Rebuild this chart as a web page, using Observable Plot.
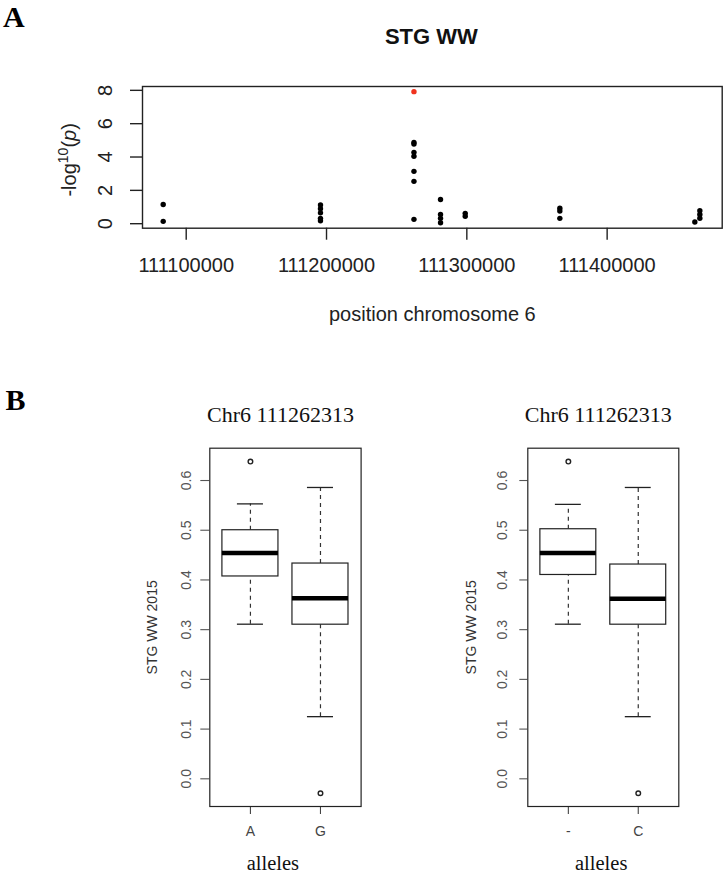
<!DOCTYPE html>
<html>
<head>
<meta charset="utf-8">
<script src="https://cdn.jsdelivr.net/npm/d3@7"></script>
<script src="https://cdn.jsdelivr.net/npm/@observablehq/plot@0.6"></script>
<style>
html, body { margin: 0; padding: 0; background: #fff; }
#root { position: relative; width: 723px; height: 875px; overflow: hidden; background: #fff; }
#root svg { position: absolute; }
</style>
</head>
<body>
<div id="root"></div>
<script>
// ---------- Panel A data: SNP positions on chromosome 6 and -log10(p) ----------
const snpPos = [
  111083600, 111083600,
  111195700, 111195700, 111195700, 111195700, 111195700,
  111262313, 111262313, 111262313, 111262313, 111262313, 111262313, 111262313, 111262313,
  111281250, 111281250, 111281250, 111281250,
  111298860, 111298860,
  111366290, 111366290, 111366290,
  111462500,
  111466070, 111466070, 111466070
];
const snpLogP = [
  1.15, 0.14,
  1.12, 0.90, 0.65, 0.32, 0.18,
  7.92, 4.87, 4.78, 4.28, 4.05, 3.14, 2.54, 0.26,
  1.45, 0.55, 0.32, 0.06,
  0.62, 0.45,
  0.93, 0.76, 0.32,
  0.10,
  0.78, 0.55, 0.33
];
const xTicksA = [111100000, 111200000, 111300000, 111400000];
const yTicksA = [0, 2, 4, 6, 8];

// ---------- Panel B data: boxplot statistics ----------
const allelesL = ["A", "G"];
const lowerL = [0.311, 0.125];
const q1L = [0.407, 0.310];
const medL = [0.454, 0.363];
const q3L = [0.500, 0.433];
const upperL = [0.553, 0.586];
const outliersL = [[0.638], [-0.029]];

const allelesR = ["-", "C"];
const lowerR = [0.311, 0.125];
const q1R = [0.410, 0.310];
const medR = [0.454, 0.362];
const q3R = [0.502, 0.431];
const upperR = [0.552, 0.586];
const outliersR = [[0.638], [-0.029]];

const yTicksB = [0, 0.1, 0.2, 0.3, 0.4, 0.5, 0.6];
const titleB = "Chr6 111262313";

const SANS = "'Liberation Sans', Arial, Helvetica, sans-serif";
const SERIF = "'Liberation Serif', 'Times New Roman', Times, serif";
const root = document.getElementById("root");

// ---------- Panel A ----------
const maxLP = d3.max(snpLogP);
const snps = snpPos.map((p, i) => ({pos: p, lp: snpLogP[i], top: snpLogP[i] === maxLP}));

const plotA = Plot.plot({
  width: 723, height: 380,
  marginLeft: 142, marginRight: 1.3, marginTop: 86, marginBottom: 152.3,
  style: {fontFamily: SANS, background: "transparent", overflow: "visible", color: "#111"},
  x: {domain: [111068850, 111482000], axis: null},
  y: {domain: [-0.27, 8.23], axis: null},
  marks: [
    Plot.axisY(yTicksA, {tickSize: 12, tickPadding: 18.3, tickRotate: -90, textAnchor: "middle", lineAnchor: "bottom",
      fontSize: 20, label: null, strokeWidth: 1.4, color: "#222", tickFormat: d3.format("d")}),
    Plot.axisX(xTicksA, {tickSize: 12, tickPadding: 17.6, fontSize: 20, label: null, strokeWidth: 1.4, color: "#222",
      tickFormat: d3.format("d")}),
    Plot.frame({stroke: "#222", strokeWidth: 1.4}),
    Plot.dot(snps.filter(d => !d.top), {x: "pos", y: "lp", r: 2.7, fill: "#000", stroke: "none"}),
    Plot.dot(snps.filter(d => d.top), {x: "pos", y: "lp", r: 2.7, fill: "#f0321e", stroke: "none"}),
    Plot.text(["A"], {text: d => d, frameAnchor: "top-left", dx: -139.5, dy: -59.3, textAnchor: "start", lineAnchor: "bottom",
      fontFamily: SERIF, fontWeight: "bold", fontSize: 30, fill: "#000"}),
    Plot.text(["STG WW"], {text: d => d, frameAnchor: "top", dx: -1, dy: -42.7, lineAnchor: "bottom",
      fontWeight: "bold", fontSize: 22, fill: "#111"}),
    Plot.text(["position chromosome 6"], {text: d => d, frameAnchor: "bottom", dx: 0, dy: 92.3, lineAnchor: "bottom",
      fontSize: 20, fill: "#222"})
  ]
});
plotA.style.left = "0px";
plotA.style.top = "0px";
root.appendChild(plotA);

// rich y label -log10(p) (superscript and italic), centred on the frame's left side
{
  const cy = 86 + (380 - 86 - 152.3) / 2;
  const t = d3.select(plotA).append("text")
    .attr("transform", `translate(76,${cy + 3}) rotate(-90)`)
    .attr("text-anchor", "middle")
    .attr("font-family", SANS)
    .attr("font-size", 20)
    .attr("fill", "#222");
  t.append("tspan").text("-log");
  t.append("tspan").attr("dy", -8).attr("font-size", 14).text("10");
  t.append("tspan").attr("dy", 8).text("(");
  t.append("tspan").attr("font-style", "italic").text("p");
  t.append("tspan").text(")");
}

// ---------- Panel B ----------
function boxPanel(cfg) {
  const rows = cfg.alleles.map((a, i) => ({
    allele: a, lower: cfg.lower[i], q1: cfg.q1[i], med: cfg.med[i], q3: cfg.q3[i], upper: cfg.upper[i]
  }));
  const outs = cfg.alleles.flatMap((a, i) => cfg.outliers[i].map(v => ({allele: a, v})));
  const marks = [
    Plot.axisY(yTicksB, {tickSize: cfg.tickSizeY, tickPadding: cfg.tickPadY, tickRotate: -90, textAnchor: "middle",
      lineAnchor: "bottom", fontSize: 14, label: null, color: "#555", strokeWidth: 1.1, tickFormat: d3.format(".1f")}),
    Plot.axisX({tickSize: 8, tickPadding: 12, fontSize: 14, label: null, color: "#444", strokeWidth: 1.1}),
    Plot.frame({stroke: "#222", strokeWidth: 1.2}),
    Plot.ruleX(rows, {x: "allele", y1: "q3", y2: "upper", stroke: "#333", strokeWidth: 1.2, strokeDasharray: "4,4"}),
    Plot.ruleX(rows, {x: "allele", y1: "lower", y2: "q1", stroke: "#333", strokeWidth: 1.2, strokeDasharray: "4,4"}),
    Plot.tickY(rows, {x: "allele", y: "upper", insetLeft: 15, insetRight: 15, stroke: "#222", strokeWidth: 1.3}),
    Plot.tickY(rows, {x: "allele", y: "lower", insetLeft: 15, insetRight: 15, stroke: "#222", strokeWidth: 1.3}),
    Plot.barY(rows, {x: "allele", y1: "q1", y2: "q3", fill: "white", stroke: "#222", strokeWidth: 1.2}),
    Plot.tickY(rows, {x: "allele", y: "med", stroke: "#000", strokeWidth: 4.5}),
    Plot.dot(outs, {x: "allele", y: "v", r: 2.3, fill: "none", stroke: "#222", strokeWidth: 1.4}),
    Plot.text([titleB], {text: d => d, frameAnchor: "top", dx: cfg.titleDx, dy: -26, lineAnchor: "bottom",
      fontFamily: SERIF, fontSize: 22, fill: "#111"}),
    Plot.text(["alleles"], {text: d => d, frameAnchor: "bottom", dx: cfg.xlabDx, dy: 63.5, lineAnchor: "bottom",
      fontFamily: SERIF, fontSize: 20.5, fill: "#111"}),
    Plot.text(["STG WW 2015"], {text: d => d, frameAnchor: "left", dx: cfg.ylabDx, dy: 0, rotate: -90,
      textAnchor: "middle", lineAnchor: "bottom", fontSize: 14, fill: "#333"})
  ];
  if (cfg.panelLabel) {
    marks.push(Plot.text([cfg.panelLabel], {text: d => d, frameAnchor: "top-left", dx: -204.3, dy: -38.4,
      textAnchor: "start", lineAnchor: "bottom", fontFamily: SERIF, fontWeight: "bold", fontSize: 30, fill: "#000"}));
  }
  const svg = Plot.plot({
    width: cfg.width, height: 495,
    marginLeft: cfg.marginLeft, marginRight: cfg.marginRight, marginTop: 67.7, marginBottom: 69,
    style: {fontFamily: SANS, background: "transparent", overflow: "visible", color: "#111"},
    x: {type: "band", domain: cfg.alleles, paddingInner: 0.2, paddingOuter: 0.18, round: false, axis: null},
    y: {domain: [-0.0557, 0.665], axis: null},
    marks
  });
  svg.style.left = cfg.left + "px";
  svg.style.top = "380px";
  root.appendChild(svg);
}

boxPanel({
  alleles: allelesL, lower: lowerL, q1: q1L, med: medL, q3: q3L, upper: upperL, outliers: outliersL,
  left: 0, width: 362, marginLeft: 209.3, marginRight: 1.4,
  tickSizeY: 9, tickPadY: 9.6, titleDx: -5, xlabDx: -12.6, ylabDx: -52.6, panelLabel: "B"
});
boxPanel({
  alleles: allelesR, lower: lowerR, q1: q1R, med: medR, q3: q3R, upper: upperR, outliers: outliersR,
  left: 362, width: 361, marginLeft: 165.3, marginRight: 44.7,
  tickSizeY: 8, tickPadY: 12.6, titleDx: -5, xlabDx: -2.1, ylabDx: -52.3, panelLabel: null
});
</script>
</body>
</html>
